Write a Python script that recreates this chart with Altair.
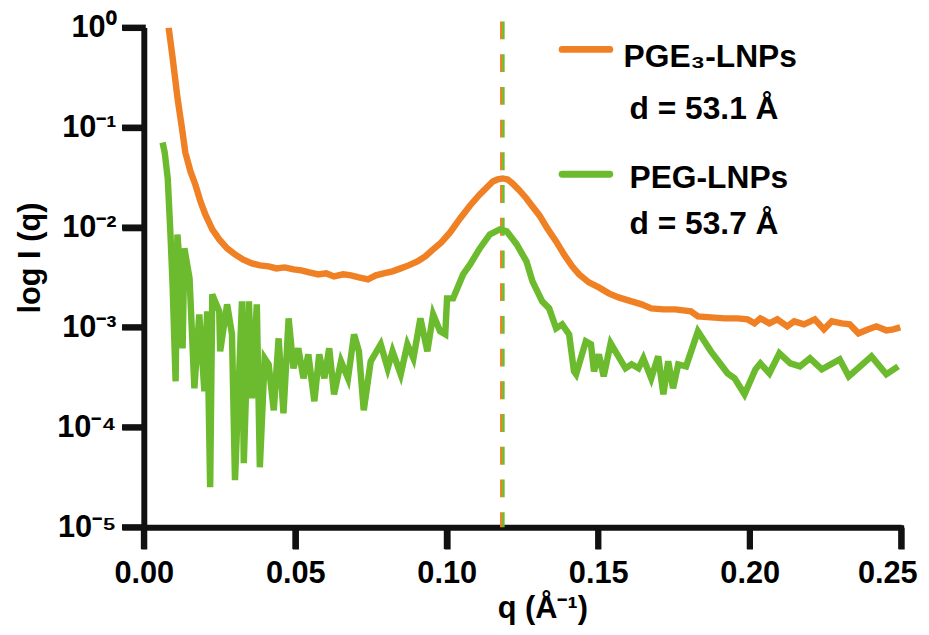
import altair as alt
import pandas as pd

# ---- data (q in 1/Å, log10 of intensity) ----
pge_q = [0.0082, 0.0095, 0.0111, 0.0128, 0.0137, 0.0154, 0.0170, 0.0187, 0.0203, 0.0226,
         0.0249, 0.0275, 0.0301, 0.0327, 0.0357, 0.0383, 0.0412, 0.0438, 0.0465, 0.0494,
         0.0520, 0.0546, 0.0576, 0.0602, 0.0628, 0.0658, 0.0684, 0.0710, 0.0740, 0.0766,
         0.0792, 0.0821, 0.0848, 0.0874, 0.0903, 0.0929, 0.0955, 0.0982, 0.1011, 0.1044,
         0.1077, 0.1109, 0.1132, 0.1152, 0.1168, 0.1185, 0.1201, 0.1217, 0.1240, 0.1263,
         0.1283, 0.1306, 0.1332, 0.1361, 0.1387, 0.1414, 0.1437, 0.1469, 0.1502, 0.1535,
         0.1567, 0.1610, 0.1643, 0.1675, 0.1715, 0.1754, 0.1806, 0.1829, 0.1872, 0.1918,
         0.1960, 0.1993, 0.2016, 0.2035, 0.2065, 0.2091, 0.2124, 0.2147, 0.2179, 0.2215,
         0.2245, 0.2271, 0.2304, 0.2330, 0.2359, 0.2392, 0.2418, 0.2451, 0.2474, 0.2497]
pge_logI = [0.00, -0.30, -0.70, -1.05, -1.25, -1.44, -1.57, -1.74, -1.87, -2.02,
            -2.12, -2.21, -2.27, -2.32, -2.36, -2.38, -2.39, -2.41, -2.40, -2.42,
            -2.43, -2.45, -2.47, -2.46, -2.49, -2.47, -2.48, -2.50, -2.52, -2.48,
            -2.46, -2.44, -2.41, -2.38, -2.34, -2.29, -2.22, -2.15, -2.05, -1.91,
            -1.78, -1.67, -1.60, -1.54, -1.52, -1.51, -1.52, -1.56, -1.63, -1.71,
            -1.79, -1.88, -2.01, -2.14, -2.27, -2.39, -2.47, -2.55, -2.60, -2.66,
            -2.70, -2.74, -2.77, -2.81, -2.82, -2.82, -2.84, -2.89, -2.90, -2.91,
            -2.91, -2.92, -2.96, -2.91, -2.96, -2.92, -2.99, -2.94, -2.97, -2.92,
            -3.02, -2.94, -2.96, -2.97, -3.06, -3.02, -2.99, -3.03, -3.02, -3.00]

peg_q = [0.0062, 0.0069, 0.0079, 0.0088, 0.0095, 0.0105, 0.0111, 0.0121, 0.0128, 0.0134,
         0.0151, 0.0167, 0.0183, 0.0200, 0.0209, 0.0219, 0.0226, 0.0249, 0.0252, 0.0275,
         0.0291, 0.0301, 0.0324, 0.0330, 0.0347, 0.0357, 0.0373, 0.0383, 0.0399, 0.0412,
         0.0429, 0.0445, 0.0461, 0.0478, 0.0494, 0.0510, 0.0527, 0.0543, 0.0563, 0.0579,
         0.0596, 0.0612, 0.0628, 0.0651, 0.0674, 0.0694, 0.0710, 0.0726, 0.0749, 0.0782,
         0.0805, 0.0821, 0.0848, 0.0870, 0.0890, 0.0913, 0.0936, 0.0955, 0.0978, 0.0995,
         0.1001, 0.1021, 0.1054, 0.1077, 0.1109, 0.1142, 0.1175, 0.1198, 0.1231, 0.1263,
         0.1283, 0.1315, 0.1338, 0.1361, 0.1381, 0.1404, 0.1420, 0.1427, 0.1459, 0.1476,
         0.1486, 0.1502, 0.1518, 0.1541, 0.1590, 0.1610, 0.1633, 0.1649, 0.1675, 0.1698,
         0.1715, 0.1731, 0.1747, 0.1764, 0.1790, 0.1829, 0.1872, 0.1927, 0.1950, 0.1983,
         0.2019, 0.2035, 0.2065, 0.2098, 0.2134, 0.2166, 0.2199, 0.2238, 0.2297, 0.2327,
         0.2402, 0.2451, 0.2490]
peg_logI = [-1.15, -1.25, -1.51, -2.07, -2.57, -3.54, -2.07, -2.49, -3.21, -2.21,
            -2.51, -3.61, -2.87, -3.64, -2.84, -4.60, -2.67, -2.84, -3.24, -2.77,
            -3.07, -4.53, -2.74, -4.36, -2.74, -3.71, -2.77, -4.40, -3.31, -3.37,
            -3.83, -3.11, -3.86, -2.91, -3.41, -3.21, -3.51, -3.27, -3.74, -3.27,
            -3.51, -3.21, -3.67, -3.34, -3.51, -3.07, -3.24, -3.83, -3.34, -3.17,
            -3.41, -3.24, -3.47, -3.17, -3.31, -2.91, -3.24, -2.87, -3.04, -3.07,
            -2.71, -2.71, -2.47, -2.37, -2.21, -2.07, -2.02, -2.04, -2.17, -2.34,
            -2.54, -2.74, -2.81, -3.01, -2.97, -3.07, -3.44, -3.47, -3.14, -3.17,
            -3.44, -3.27, -3.49, -3.16, -3.41, -3.37, -3.41, -3.31, -3.51, -3.29,
            -3.67, -3.34, -3.61, -3.37, -3.39, -3.04, -3.24, -3.46, -3.51, -3.67,
            -3.42, -3.36, -3.46, -3.26, -3.36, -3.39, -3.31, -3.42, -3.32, -3.49,
            -3.29, -3.47, -3.39]

series_names = ["PGE3-LNPs", "PEG-LNPs"]
series_colors = ["#F08024", "#6CBB2E"]
peak_q = [0.1180, 0.1187]          # dashed peak markers
legend_titles = ["PGE₃-LNPs", "PEG-LNPs"]
legend_d = ["d = 53.1 Å", "d = 53.7 Å"]
x_ticks = [0.0, 0.05, 0.10, 0.15, 0.20, 0.25]
y_ticks = [1e-5, 1e-4, 1e-3, 1e-2, 1e-1, 1.0]
y_tick_labels = ["10⁻⁵", "10⁻⁴", "10⁻³", "10⁻²", "10⁻¹", "10⁰"]

# ---- tables ----
df = pd.concat([
    pd.DataFrame({"q": pge_q, "I": [10 ** v for v in pge_logI], "series": series_names[0]}),
    pd.DataFrame({"q": peg_q, "I": [10 ** v for v in peg_logI], "series": series_names[1]}),
])
peaks = pd.DataFrame({"q": peak_q, "series": series_names})
xt = pd.DataFrame({"q": x_ticks})
yt = pd.DataFrame({"I": y_ticks})

# y label expression built from the arrays
expr = "''"
for v, lab in zip(y_ticks, y_tick_labels):
    expr = f"abs(log(datum.value) - log({v})) < 0.5 ? '{lab}' : ({expr})"

W, H, TS = 764, 504, 22
INK = "#111111"
color = alt.Color("series:N", scale=alt.Scale(domain=series_names, range=series_colors), legend=None)
xs = alt.Scale(domain=[0, 0.25], nice=False)
ys = alt.Scale(type="log", domain=[1e-5, 1], nice=False)

FONT = "Liberation Sans"
tick_kw = dict(ticks=True, tickSize=TS, tickWidth=6, tickColor=INK,
               domain=True, domainWidth=6, domainColor=INK,
               labelFlush=False, labelOverlap=False, grid=False)

lines = alt.Chart(df).mark_line(strokeWidth=6.5, clip=True).encode(
    x=alt.X("q:Q", scale=xs,
            axis=alt.Axis(values=x_ticks, format=".2f", title="q (Å⁻¹)",
                          titleX=402, titleY=91, titleBaseline="alphabetic", titleAlign="center",
                          labelOffset={"condition": {"test": "datum.value > 0.24", "value": -14}, "value": 0},
                          labelPadding=10, **tick_kw)),
    y=alt.Y("I:Q", scale=ys,
            axis=alt.Axis(values=y_ticks, labelExpr=expr, title="log I (q)",
                          titleX=-114, titleY=232, titleAlign="center", titleBaseline="middle",
                          labelPadding=6, **tick_kw)),
    color=color,
    order=alt.Order("q:Q"),
)

# tick marks drawn at the tick values through the scales (same place as the axis ticks)
xtick_marks = alt.Chart(xt).mark_rule(strokeWidth=6, color=INK, clip=False).encode(
    x=alt.X("q:Q", scale=xs), y=alt.value(H - 2), y2=alt.value(H + TS))
ytick_marks = alt.Chart(yt).mark_rule(strokeWidth=6, color=INK, clip=False).encode(
    y=alt.Y("I:Q", scale=ys), x=alt.value(2), x2=alt.value(-TS))

rules = alt.Chart(peaks).mark_rule(strokeWidth=2.5, strokeDash=[18, 15], clip=False).encode(
    x=alt.X("q:Q", scale=xs),
    y=alt.datum(1.15, scale=ys),
    y2=alt.datum(1e-5),
    color=color,
)

one = alt.Data(values=[{"k": 1}])
leg = []
leg_y_line = [22, 148]
leg_y_title = [40, 162]
leg_y_d = [92, 208]
leg_x_title = [484, 490]
for i in range(2):
    leg.append(alt.Chart(one).mark_rule(strokeWidth=7, strokeCap="round", color=series_colors[i]).encode(
        x=alt.value(422), x2=alt.value(470), y=alt.value(leg_y_line[i])))
    leg.append(alt.Chart(one).mark_text(font=FONT, fontWeight="bold", fontSize=32, align="left",
                                        baseline="alphabetic", color="black").encode(
        x=alt.value(leg_x_title[i]), y=alt.value(leg_y_title[i]), text=alt.value(legend_titles[i])))
    leg.append(alt.Chart(one).mark_text(font=FONT, fontWeight="bold", fontSize=32, align="left",
                                        baseline="alphabetic", color="black").encode(
        x=alt.value(490), y=alt.value(leg_y_d[i]), text=alt.value(legend_d[i])))

chart = alt.layer(rules, lines, xtick_marks, ytick_marks, *leg).properties(
    width=W, height=H,
    autosize=alt.AutoSizeParams(type="none"),
    padding={"left": 137, "top": 17, "right": 20, "bottom": 106},
).configure_view(stroke=None).configure_axis(
    labelFont=FONT, labelFontWeight="bold", labelFontSize=31, labelColor="black",
    titleFont=FONT, titleFontWeight="bold", titleFontSize=31, titleColor="black",
)

chart.save("out.html", embed_options={"renderer": "svg", "actions": False})
